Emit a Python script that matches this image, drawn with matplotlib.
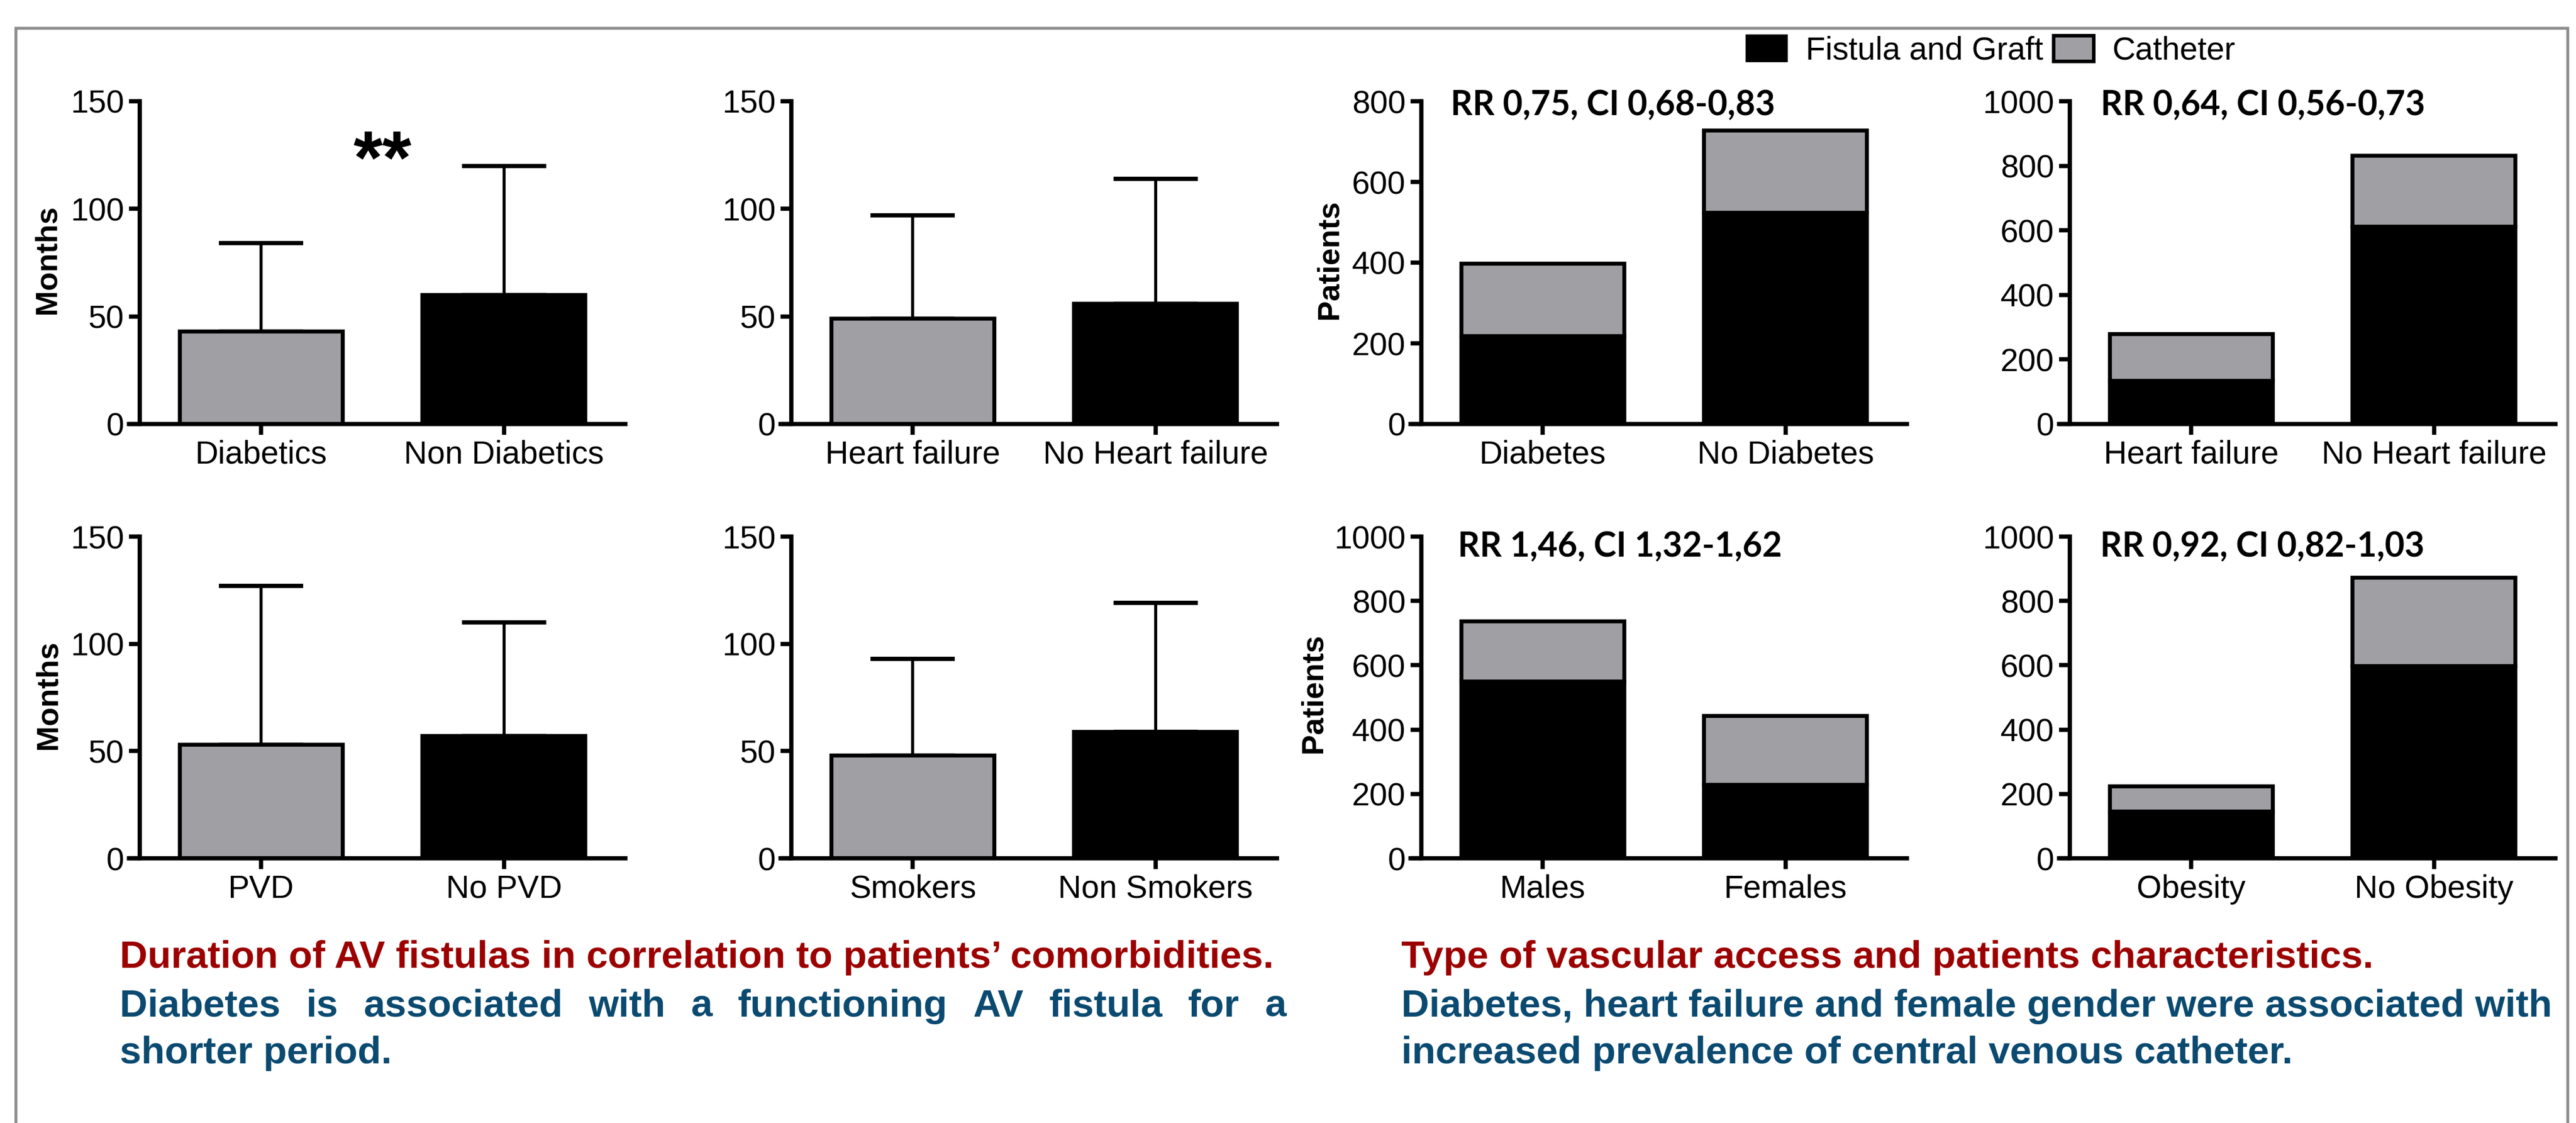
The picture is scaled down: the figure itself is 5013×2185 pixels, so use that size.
import matplotlib
matplotlib.use("Agg")
import matplotlib.pyplot as plt
from matplotlib.patches import Patch, Rectangle

W, H = 5013, 2185

# duration of AV fistulas (months, mean and SD)
diab_labels = ["Diabetics", "Non Diabetics"]
diab_mean = [43, 60]
diab_sd = [41, 60]
hf_labels = ["Heart failure", "No Heart failure"]
hf_mean = [49, 56]
hf_sd = [48, 58]
pvd_labels = ["PVD", "No PVD"]
pvd_mean = [53, 57]
pvd_sd = [74, 53]
smk_labels = ["Smokers", "Non Smokers"]
smk_mean = [48, 59]
smk_sd = [45, 60]

# type of vascular access (patients)
acc_diab_labels = ["Diabetes", "No Diabetes"]
acc_diab_fistula = [218, 524]
acc_diab_catheter = [180, 204]
acc_hf_labels = ["Heart failure", "No Heart failure"]
acc_hf_fistula = [134, 611]
acc_hf_catheter = [145, 221]
sex_labels = ["Males", "Females"]
sex_fistula = [549, 229]
sex_catheter = [188, 213]
ob_labels = ["Obesity", "No Obesity"]
ob_fistula = [145, 597]
ob_catheter = [79, 275]

rr_texts = ["RR 0,75, CI 0,68-0,83", "RR 0,64, CI 0,56-0,73",
            "RR 1,46, CI 1,32-1,62", "RR 0,92, CI 0,82-1,03"]

GRAY = "#a09fa4"
RED = "#9c0000"
BLUE = "#0b4a70"
FONT = "Liberation Sans"

plt.rcParams["font.family"] = [FONT, "DejaVu Sans"]

fig = plt.figure(figsize=(W / 100, H / 100), dpi=100)
renderer = fig.canvas.get_renderer()


def make_axes(x0, x1, yb, yt):
    # x0: pixel of the y axis, x1: right end of x axis, yb/yt: pixel rows of 0 and top
    u = (x1 - x0) / 2.0
    left = x0 - 0.045 * u
    ax = fig.add_axes([left / W, 1 - yb / H, (x1 - left) / W, (yb - yt) / H])
    ax.set_xlim(-0.545, 1.5)
    ax.spines["left"].set_position(("data", -0.5))
    ax.spines[["top", "right"]].set_visible(False)
    for s in ("left", "bottom"):
        ax.spines[s].set_linewidth(6)
        ax.spines[s].set_capstyle("projecting")
    ax.tick_params(width=6, length=15, labelsize=45, pad=7, direction="out")
    return ax


def months_panel(ax, labels, mean, sd):
    ax.bar([0, 1], mean, width=0.67, color=[GRAY, "black"], edgecolor="black",
           linewidth=5.5, zorder=2)
    ax.errorbar([0, 1], mean, yerr=[[0, 0], sd], fmt="none", ecolor="black",
                elinewidth=4.2, capsize=59, capthick=6, zorder=1)
    ax.set_ylim(0, 150)
    ax.set_yticks([0, 50, 100, 150])
    ax.set_xticks([0, 1])
    ax.set_xticklabels(labels)


def access_panel(ax, labels, fistula, catheter, ymax):
    ax.bar([0, 1], fistula, width=0.67, color="black", edgecolor="black",
           linewidth=5.5, zorder=2)
    ax.bar([0, 1], catheter, bottom=fistula, width=0.67, color=GRAY,
           edgecolor="black", linewidth=5.5, zorder=2)
    ax.set_ylim(0, ymax)
    ax.set_yticks(range(0, ymax + 1, 200))
    ax.set_xticks([0, 1])
    ax.set_xticklabels(labels)


col_x = [272, 1540, 2766, 4028]
col_w = 945
top_row = (825, 197)
bot_row = (1670, 1044)

ax1 = make_axes(col_x[0], col_x[0] + col_w, *top_row)
months_panel(ax1, diab_labels, diab_mean, diab_sd)
ax1.text(0.5, 112, "**", fontsize=105, fontweight="bold", ha="center",
         va="baseline")
ax2 = make_axes(col_x[1], col_x[1] + col_w, *top_row)
months_panel(ax2, hf_labels, hf_mean, hf_sd)
ax3 = make_axes(col_x[0], col_x[0] + col_w, *bot_row)
months_panel(ax3, pvd_labels, pvd_mean, pvd_sd)
ax4 = make_axes(col_x[1], col_x[1] + col_w, *bot_row)
months_panel(ax4, smk_labels, smk_mean, smk_sd)

ax5 = make_axes(col_x[2], col_x[2] + col_w, *top_row)
access_panel(ax5, acc_diab_labels, acc_diab_fistula, acc_diab_catheter, 800)
ax6 = make_axes(col_x[3], col_x[3] + col_w, *top_row)
access_panel(ax6, acc_hf_labels, acc_hf_fistula, acc_hf_catheter, 1000)
ax7 = make_axes(col_x[2], col_x[2] + col_w, *bot_row)
access_panel(ax7, sex_labels, sex_fistula, sex_catheter, 1000)
ax8 = make_axes(col_x[3], col_x[3] + col_w, *bot_row)
access_panel(ax8, ob_labels, ob_fistula, ob_catheter, 1000)

# y labels
for xc, yc, txt in [(92, 505, "Months"), (94, 1352, "Months"),
                    (2587, 505, "Patients"), (2556, 1349, "Patients")]:
    fig.text(xc / W, 1 - yc / H, txt, rotation=90, ha="center", va="center",
             fontsize=43, fontweight="bold")

# RR annotations, sized to the width of the original
probe = fig.text(0, 0, rr_texts[0], fontsize=40, fontweight="bold",
                 family=["Lato", "DejaVu Sans"])
rr_size = 40 * 630 / probe.get_window_extent(renderer).width
probe.remove()
for (px, py), txt in zip([(2823, 224), (4088, 224), (2837, 1083), (4087, 1083)],
                         rr_texts):
    fig.text(px / W, 1 - py / H, txt, fontsize=rr_size, fontweight="bold",
             family=["Lato", "DejaVu Sans"], ha="left", va="baseline")

# legend
handles = [Patch(facecolor="black", edgecolor="black", linewidth=3),
           Patch(facecolor=GRAY, edgecolor="black", linewidth=5)]
fig.legend(handles, ["Fistula and Graft", "Catheter"], ncol=2, frameon=False,
           fontsize=45, handlelength=1.25, handleheight=0.86,
           handletextpad=0.59, columnspacing=0.32, loc="center left",
           bbox_to_anchor=(3399 / W, 1 - 99 / H), borderpad=0,
           borderaxespad=0)

# captions
CAP = 54


def line(x, y, txt, color, width=None):
    if width is None:
        fig.text(x / W, 1 - y / H, txt, fontsize=CAP, fontweight="bold",
                 color=color, ha="left", va="baseline")
        return
    # justified line: spread the words over the given width
    words = txt.split()
    arts = [fig.text(0, 1 - y / H, w, fontsize=CAP, fontweight="bold",
                     color=color, ha="left", va="baseline") for w in words]
    widths = [a.get_window_extent(renderer).width for a in arts]
    gap = (width - sum(widths)) / (len(words) - 1)
    pos = x
    for a, w in zip(arts, widths):
        a.set_x(pos / W)
        pos += w + gap


line(233, 1883, "Duration of AV fistulas in correlation to patients\u2019 comorbidities.", RED)
line(233, 1978, "Diabetes is associated with a functioning AV fistula for a", BLUE,
     width=2270)
line(233, 2069, "shorter period.", BLUE)
line(2727, 1883, "Type of vascular access and patients characteristics.", RED)
line(2727, 1978, "Diabetes, heart failure and female gender were associated with", BLUE)
line(2727, 2069, "increased prevalence of central venous catheter.", BLUE)

# outer frame (open at the bottom edge of the crop)
fig.add_artist(Rectangle((31 / W, -0.1), (4997 - 31) / W, 1.1 - 55 / H,
                         transform=fig.transFigure, fill=False,
                         edgecolor="#8c8c8c", linewidth=4, clip_on=False))

fig.savefig("out.png", dpi=100)
